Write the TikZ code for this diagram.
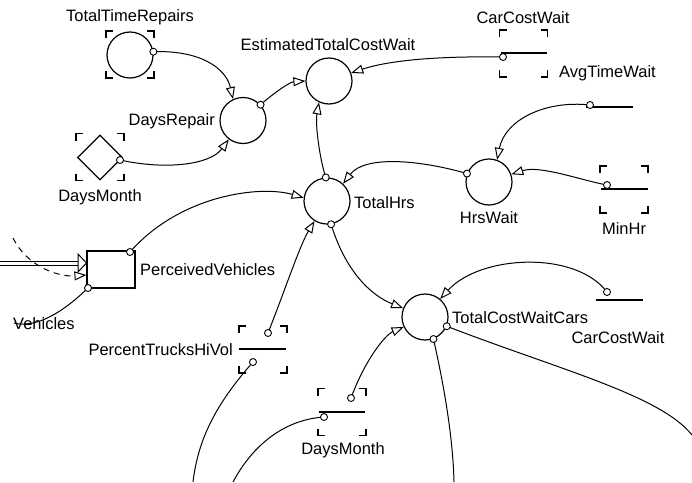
\documentclass[tikz,border=0pt]{standalone}
\usepackage{fontspec}
\setmainfont{Liberation Sans}
\usetikzlibrary{arrows.meta,shapes.geometric}
\begin{document}
\begin{tikzpicture}[x=1pt,y=-1pt,
  font=\fontsize{16.5}{19}\selectfont,
  aux/.style={circle,draw,line width=1.2pt,minimum size=46pt,inner sep=0pt},
  lvl/.style={rectangle,draw,line width=1.1pt,minimum width=48pt,minimum height=37pt,inner sep=0pt},
  dia/.style={diamond,draw,line width=1.2pt,minimum size=45pt,inner sep=0pt},
  cst/.style={rectangle,minimum width=46pt,minimum height=0pt,inner sep=0pt},
  bar/.style={line width=2.2pt},
  dot/.style={circle,draw,fill=white,line width=0.9pt,minimum size=7pt,inner sep=0pt},
  link/.style={line width=1pt,-{Triangle[open,length=12pt,width=9pt,line width=1pt]}},
  plain/.style={line width=1pt},
  lbl/.style={inner sep=0pt},
  corner/.style={line width=1.2pt},
  pics/brk/.style={code={
    \draw[corner] (-24,-16.5)--(-24,-23.5)--(-17,-23.5)
                  (17,-23.5)--(24,-23.5)--(24,-16.5)
                  (24,16.5)--(24,23.5)--(17,23.5)
                  (-17,23.5)--(-24,23.5)--(-24,16.5);}}
]
\useasboundingbox (0,0) rectangle (692,482);

% ---------- variables ----------
\node[aux] (ttr) at (130,55) {};
\pic at (130,54.5) {brk};
\node[lbl] (ttrL) at (130,17) {TotalTimeRepairs};

\node[aux] (dr) at (243,120.5) {};
\node[lbl,anchor=east] (drL) at (215,121) {DaysRepair};

\node[aux] (etcw) at (329,81) {};
\node[lbl] (etcwL) at (328,45) {EstimatedTotalCostWait};

\node[dia] (dm) at (100,157.5) {};
\pic at (100,157) {brk};
\node[lbl] (dmL) at (100,197) {DaysMonth};

\node[cst] (ccw) at (524,53) {};
\draw[bar] (ccw.west) -- (ccw.east);
\pic at (523.5,53.5) {brk};
\node[lbl] (ccwL) at (523,18) {CarCostWait};

\node[cst] (atw) at (609.5,107) {};
\draw[bar] (atw.west) -- (atw.east);
\node[lbl,anchor=west] (atwL) at (559,73) {AvgTimeWait};

\node[aux] (hw) at (489,182) {};
\node[lbl] (hwL) at (489,218) {HrsWait};

\node[cst] (mh) at (624.5,189) {};
\draw[bar] (mh.west) -- (mh.east);
\pic at (624,189.5) {brk};
\node[lbl] (mhL) at (624,229) {MinHr};

\node[aux] (th) at (327,201) {};
\node[lbl,anchor=west] (thL) at (354,203) {TotalHrs};

\node[lvl] (pv) at (111,269.5) {};
\node[lbl,anchor=west] (pvL) at (140,270) {PerceivedVehicles};
\node[lbl,anchor=west] (vehL) at (13,324) {Vehicles};

\node[cst] (pt) at (262.5,349) {};
\draw[bar] (pt.west) -- (pt.east);
\pic at (263,349.5) {brk};
\node[lbl,anchor=east] (ptL) at (233,350) {PercentTrucksHiVol};

\node[cst] (dm2) at (342,412) {};
\draw[bar] (dm2.west) -- (dm2.east);
\pic at (342,412) {brk};
\node[lbl] (dm2L) at (343,450) {DaysMonth};

\node[aux] (tc) at (425,317) {};
\node[lbl,anchor=west] (tcL) at (452,318) {TotalCostWaitCars};

\node[cst] (ccw2) at (619.5,300) {};
\draw[bar] (ccw2.west) -- (ccw2.east);
\node[lbl] (ccw2L) at (618,338) {CarCostWait};

% ---------- connector start points ----------
\coordinate (sTtr) at (ttr.8);
\coordinate (sDm) at (120,160);
\coordinate (sDr) at (dr.42);
\coordinate (sCcw) at (503,57);
\coordinate (sThTop) at (th.93);
\coordinate (sThBot) at (th.-80);
\coordinate (sHw) at (hw.159);
\coordinate (sAtw) at (590,105);
\coordinate (sMh) at (607,185);
\coordinate (sPv) at (130,252);
\coordinate (sPv2) at (88,288);
\coordinate (sPtU) at (268,333);
\coordinate (sPtL) at (253,362);
\coordinate (sDmU) at (351,398);
\coordinate (sDmL) at (324,417);
\coordinate (sCcw2) at (607,292);
\coordinate (sTcA) at (tc.-23);
\coordinate (sTcB) at (tc.-69);
\coordinate (eVeh) at (14,323);
\coordinate (ePtL) at (193,482);
\coordinate (eDmL) at (233,482);
\coordinate (eTcA) at (692,435);
\coordinate (eTcB) at (454,482);
\coordinate (pipeS) at (0,263);
\coordinate (dashS) at (13,238);

% ---------- connectors ----------
\draw[link] (sTtr) .. controls (200,50) and (226,68) .. (dr.115);
\draw[link] (sDm) .. controls (165,170) and (210,165) .. (dr.-127);
\draw[link] (sDr) .. controls (275,92) and (290,82) .. (etcw.180);
\draw[link] (sCcw) .. controls (440,56) and (390,60) .. (etcw.20);
\draw[link] (sThTop) .. controls (320,160) and (315,125) .. (etcw.-115);
\draw[link] (sHw) .. controls (420,160) and (365,155) .. (th.47);
\draw[link] (sAtw) .. controls (545,100) and (505,120) .. (hw.70);
\draw[link] (sMh) .. controls (580,180) and (540,165) .. (hw.19);
\draw[link] (sPv) .. controls (180,195) and (260,185) .. (th.172);
\draw[plain] (sPv2) .. controls (60,315) and (35,328) .. (eVeh);
\draw[link] (sPtU) .. controls (285,290) and (300,245) .. (th.-122);
\draw[plain] (sPtL) .. controls (215,405) and (198,440) .. (ePtL);
\draw[link] (sDmU) .. controls (365,360) and (385,335) .. (tc.-155);
\draw[plain] (sDmL) .. controls (280,420) and (250,450) .. (eDmL);
\draw[link] (sThBot) .. controls (345,270) and (370,295) .. (tc.158);
\draw[link] (sCcw2) .. controls (575,250) and (480,255) .. (tc.50);
\draw[plain] (sTcA) .. controls (560,370) and (660,395) .. (eTcA);
\draw[plain] (sTcB) .. controls (445,390) and (453,440) .. (eTcB);

% flow pipe into the level
\draw[plain] (pipeS |- 0,261.5) -- (80,261.5) (pipeS |- 0,265) -- (80,265);
\draw[line width=1pt,fill=white] (78,254) -- (pv.west |- 0,263) -- (78,272) -- cycle;
\draw[link,dashed,dash pattern=on 6pt off 5pt] (dashS) .. controls (28,268) and (60,277) .. (pv.west |- 0,275);

% ---------- dots ----------
\foreach \c in {sTtr,sDm,sDr,sCcw,sThTop,sThBot,sHw,sAtw,sMh,sPv,sPv2,sPtU,sPtL,sDmU,sDmL,sCcw2,sTcA,sTcB}
  \node[dot] at (\c) {};
\end{tikzpicture}
\end{document}
